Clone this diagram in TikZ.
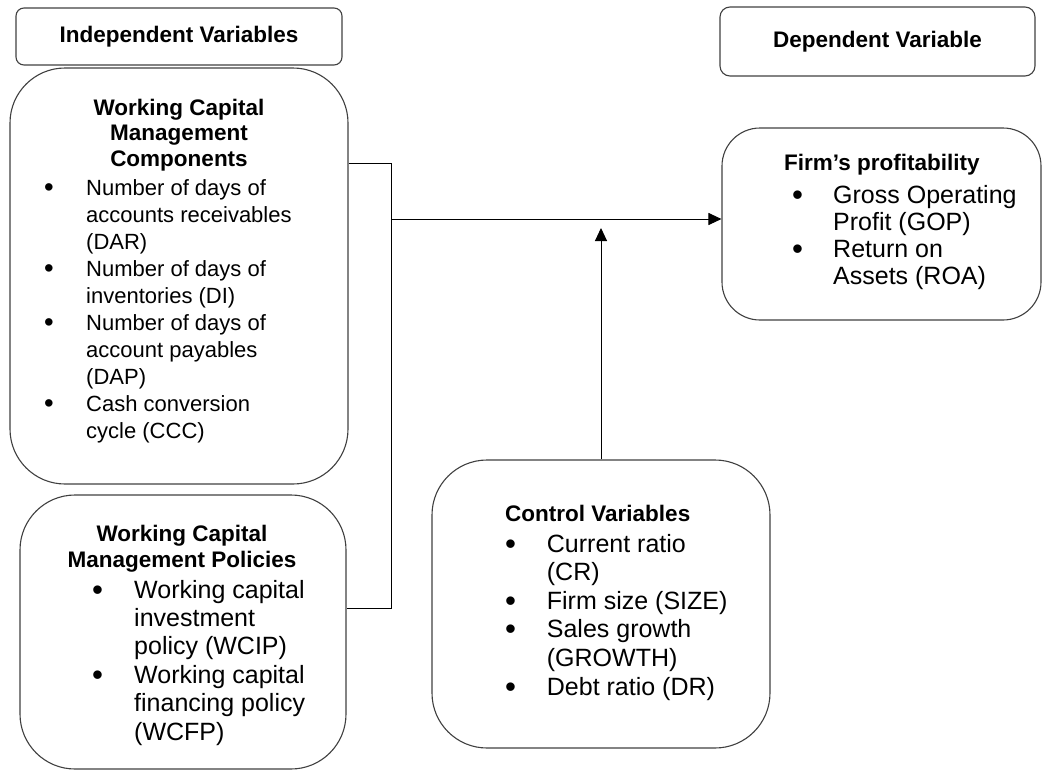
\documentclass[tikz,border=0pt]{standalone}
\usepackage{fontspec}
\setmainfont{Liberation Sans}
\usetikzlibrary{arrows.meta}
\tikzset{
	rbox/.style={draw=black!75, line width=1.1pt, rounded corners=#1, inner sep=0pt},
	rbox/.default=8pt,
	hdr/.style={font=\bfseries\fontsize{22.5}{25.5}\selectfont, inner sep=0pt},
	lst/.style={font=\fontsize{25}{28.4}\selectfont, inner sep=0pt, anchor=base west},
	link/.style={line width=1pt},
	arr/.style={line width=1pt, -{Triangle[length=13pt,width=12pt]}}
}
\newcommand{\bul}{\raisebox{-0.08em}{\scalebox{1.25}{\textbullet}}}

\begin{document}
\begin{tikzpicture}[x=1pt, y=-1pt]
	\useasboundingbox (0,0) rectangle (1042,772);

	% boxes
	\node[rbox, minimum width=326pt, minimum height=57pt, font=\bfseries\fontsize{22.5}{26}\selectfont] (indep) at (179,36.5) {Independent Variables};
	\node[rbox=10pt, minimum width=315pt, minimum height=69pt, font=\bfseries\fontsize{22.5}{26}\selectfont] (dep) at (877.5,41.5) {Dependent Variable};
	\node[rbox=55pt, minimum width=338pt, minimum height=416pt] (comp) at (179,276) {};
	\node[rbox=55pt, minimum width=326pt, minimum height=274pt] (pol) at (183,632) {};
	\node[rbox=55pt, minimum width=338pt, minimum height=288pt] (ctrl) at (601,604) {};
	\node[rbox=38pt, minimum width=319pt, minimum height=192pt] (firm) at (881.5,224) {};

	% texts
	\node[hdr, anchor=base] (comphead) at (179,115) {\begin{tabular}[t]{@{}c@{}}Working Capital\\Management\\Components\end{tabular}};
	\node[lst, font=\fontsize{22}{27}\selectfont] (complist) at (44,195) {\begin{tabular}[t]{@{}p{42pt}@{}l@{}}
		\bul & Number of days of\\
		& accounts receivables\\
		& (DAR)\\
		\bul & Number of days of\\
		& inventories (DI)\\
		\bul & Number of days of\\
		& account payables\\
		& (DAP)\\
		\bul & Cash conversion\\
		& cycle (CCC)
	\end{tabular}};

	\node[hdr, anchor=base, font=\bfseries\fontsize{22.5}{26}\selectfont] (polhead) at (182,541) {\begin{tabular}[t]{@{}c@{}}Working Capital\\Management Policies\end{tabular}};
	\node[lst] (pollist) at (92,598) {\begin{tabular}[t]{@{}p{42pt}@{}l@{}}
		\bul & Working capital\\
		& investment\\
		& policy (WCIP)\\
		\bul & Working capital\\
		& financing policy\\
		& (WCFP)
	\end{tabular}};

	\node[hdr, anchor=base west] (ctrlhead) at (505,521) {Control Variables};
	\node[lst, font=\fontsize{25}{28.6}\selectfont] (ctrllist) at (505,552) {\begin{tabular}[t]{@{}p{41.7pt}@{}l@{}}
		\bul & Current ratio\\
		& (CR)\\
		\bul & Firm size (SIZE)\\
		\bul & Sales growth\\
		& (GROWTH)\\
		\bul & Debt ratio (DR)
	\end{tabular}};

	\node[hdr, anchor=base west] (firmhead) at (784,170) {Firm’s profitability};
	\node[lst, font=\fontsize{25}{27}\selectfont] (firmlist) at (792,203) {\begin{tabular}[t]{@{}p{41pt}@{}l@{}}
		\bul & Gross Operating\\
		& Profit (GOP)\\
		\bul & Return on\\
		& Assets (ROA)
	\end{tabular}};

	% connectors
	\coordinate (jtop) at (391,163);
	\coordinate (jbot) at (391,608);
	\coordinate (jmid) at (391,219);
	\coordinate (ctip) at (601,228);
	\draw[link] (comp.east |- jtop) -- (jtop) -- (jbot) -- (pol.east |- jbot);
	\draw[arr] (jmid) -- (firm.west |- jmid);
	\draw[arr] (ctrl.north) -- (ctip);
\end{tikzpicture}
\end{document}
